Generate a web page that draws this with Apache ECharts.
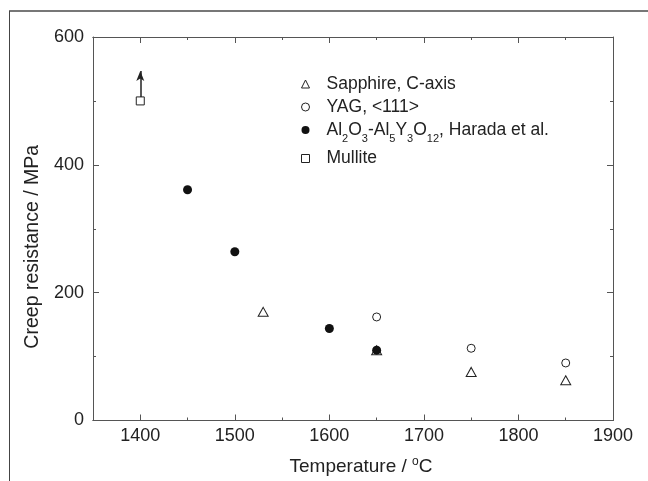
<!DOCTYPE html>
<html>
<head>
<meta charset="utf-8">
<script src="https://cdn.jsdelivr.net/npm/echarts@6/dist/echarts.min.js"></script>
<style>html,body{margin:0;padding:0;background:#fff}#c{width:648px;height:481px}</style>
</head>
<body>
<div id="c"></div>
<script>
// ---- data ----
var seriesNames = ['Sapphire, C-axis', 'YAG, <111>', 'Al2O3-Al5Y3O12, Harada et al.', 'Mullite'];
var sapphire = [[1530, 170], [1650, 110], [1750, 76], [1850, 63]];
var yag = [[1650, 162], [1750, 113], [1850, 90]];
var harada = [[1450, 361], [1500, 264], [1600, 144], [1650, 110]];
var mullite = [[1400, 500]];
var mulliteArrow = [[1400, 506], [1400, 547]];
var xTickLabels = [1400, 1500, 1600, 1700, 1800, 1900];
var yTickLabels = [0, 200, 400, 600];

var richLegend = {
  'Sapphire, C-axis': 'Sapphire, C-axis',
  'YAG, <111>': 'YAG, <111>',
  'Al2O3-Al5Y3O12, Harada et al.': 'Al{s|2}O{s|3}-Al{s|5}Y{s|3}O{s|12}, Harada et al.',
  'Mullite': 'Mullite'
};

var font = '"Liberation Sans", Arial, sans-serif';
var axisColor = '#555';
var textColor = '#222';

var chart = echarts.init(document.getElementById('c'), null, {renderer: 'canvas'});

function xAx(pos, showLabel, interval, len, extra) {
  var o = {
    type: 'value', position: pos, min: 1350, max: 1900,
    axisLine: {show: true, onZero: false, lineStyle: {color: axisColor, width: 1}},
    axisTick: {show: true, inside: true, length: len, lineStyle: {color: axisColor}},
    splitLine: {show: false},
    axisLabel: {show: showLabel, color: textColor, fontFamily: font, fontSize: 18, margin: 7,
      formatter: function (v) { return xTickLabels.indexOf(v) >= 0 ? String(v) : ''; }},
    axisPointer: {show: false}
  };
  if (interval) o.interval = interval;
  if (extra) for (var k in extra) o[k] = extra[k];
  return o;
}

function yAx(pos, showLabel, extra) {
  var o = {
    type: 'value', position: pos, min: 0, max: 600, interval: 200,
    axisLine: {show: true, onZero: false, lineStyle: {color: axisColor, width: 1}},
    axisTick: {show: true, inside: true, length: 6, lineStyle: {color: axisColor}},
    minorTick: {show: true, splitNumber: 2, length: 3, lineStyle: {color: axisColor}},
    splitLine: {show: false}, minorSplitLine: {show: false},
    axisLabel: {show: showLabel, color: textColor, fontFamily: font, fontSize: 18, margin: 9,
      formatter: function (v) { return yTickLabels.indexOf(v) >= 0 ? String(v) : ''; }}
  };
  if (extra) for (var k in extra) o[k] = extra[k];
  return o;
}

var hollow = {color: '#fff', borderColor: '#222', borderWidth: 1, opacity: 1};

var option = {
  animation: false,
  backgroundColor: '#fff',
  grid: {left: 93, right: 35, top: 37, bottom: 58, containLabel: false},
  graphic: [
    {type: 'line', shape: {x1: 9, y1: 11, x2: 648, y2: 11}, style: {stroke: '#777', lineWidth: 2}, silent: true},
    {type: 'line', shape: {x1: 9.5, y1: 11, x2: 9.5, y2: 481}, style: {stroke: '#444', lineWidth: 1}, silent: true}
  ],
  xAxis: [
    xAx('bottom', true, null, 6, {
      name: 'Temperature / {sup|o}C', nameLocation: 'middle', nameGap: 35,
      nameTextStyle: {color: textColor, fontFamily: font, fontSize: 19, padding: [0, 0, 0, 16],
        rich: {sup: {fontSize: 12, fontFamily: font, color: textColor, padding: [0, 0, 10, 0]}}}
    }),
    xAx('bottom', false, 50, 3),
    xAx('top', false, null, 6),
    xAx('top', false, 50, 3)
  ],
  yAxis: [
    yAx('left', true, {
      name: 'Creep resistance / MPa', nameLocation: 'middle', nameGap: 49,
      nameTextStyle: {color: textColor, fontFamily: font, fontSize: 19.5, padding: [0, 36, 0, 0]}
    }),
    yAx('right', false)
  ],
  legend: {
    orient: 'vertical', left: 296, top: 70, itemGap: 5,
    itemWidth: 8, itemHeight: 8,
    data: seriesNames,
    selectedMode: false,
    itemStyle: {borderWidth: 1},
    formatter: function (name) { return richLegend[name]; },
    textStyle: {color: textColor, fontFamily: font, fontSize: 17.5, padding: [0, 0, 0, 12],
      rich: {s: {fontSize: 11, fontFamily: font, color: textColor, padding: [18, 0, 0, 0]}}}
  },
  series: [
    {name: seriesNames[0], type: 'scatter', data: sapphire, symbol: 'triangle', symbolSize: [10, 9], itemStyle: hollow, z: 2},
    {name: seriesNames[1], type: 'scatter', data: yag, symbol: 'circle', symbolSize: 8, itemStyle: hollow, z: 2},
    {name: seriesNames[2], type: 'scatter', data: harada, symbol: 'circle', symbolSize: 9, itemStyle: {color: '#111', opacity: 1}, z: 3},
    {name: seriesNames[3], type: 'scatter', data: mullite, symbol: 'rect', symbolSize: 8, itemStyle: hollow, z: 2,
      markLine: {silent: true, animation: false, symbol: ['none', 'arrow'], symbolSize: [6, 10],
        label: {show: false}, lineStyle: {color: '#222', width: 1.5, type: 'solid', opacity: 1},
        emphasis: {disabled: true},
        data: [[{coord: mulliteArrow[0]}, {coord: mulliteArrow[1]}]]}}
  ]
};
chart.setOption(option);
</script>
</body>
</html>
